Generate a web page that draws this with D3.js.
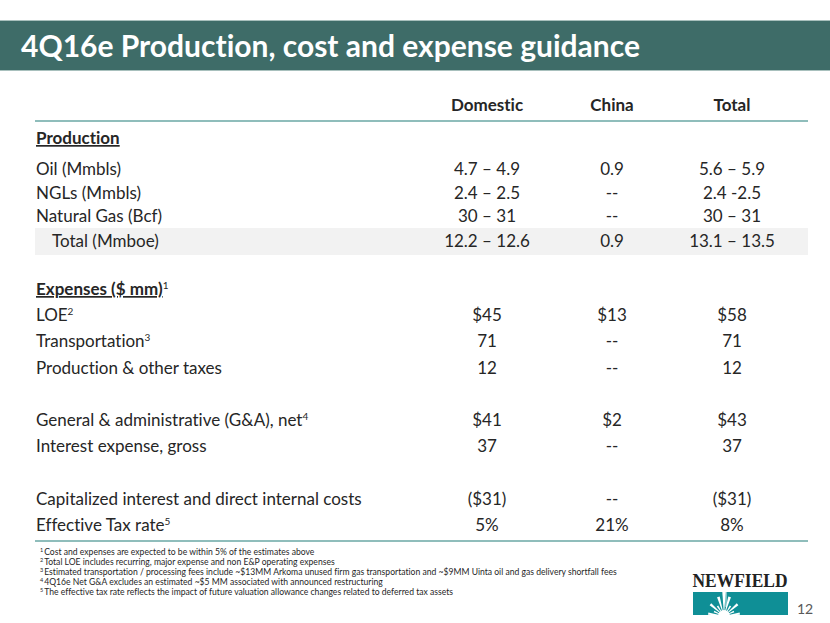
<!DOCTYPE html>
<html>
<head>
<meta charset="utf-8">
<script src="https://cdn.jsdelivr.net/npm/d3@7/dist/d3.min.js"></script>
<style>
  html, body { margin: 0; padding: 0; background: #ffffff; }
  svg { display: block; font-family: Lato, "Open Sans", sans-serif; font-variant-ligatures: none; font-feature-settings: "liga" 0, "clig" 0; }
</style>
</head>
<body>
<svg id="chart" width="830" height="623"></svg>
<script>
// ---------------- data ----------------
const title = "4Q16e Production, cost and expense guidance";
const columns = ["Domestic", "China", "Total"];

const prodLabels   = ["Oil (Mmbls)", "NGLs (Mmbls)", "Natural Gas (Bcf)", "Total (Mmboe)"];
const prodDomestic = ["4.7 – 4.9", "2.4 – 2.5", "30 – 31", "12.2 – 12.6"];
const prodChina    = ["0.9", "--", "--", "0.9"];
const prodTotal    = ["5.6 – 5.9", "2.4 -2.5", "30 – 31", "13.1 – 13.5"];

const expLabels   = ["LOE", "Transportation", "Production & other taxes",
                     "General & administrative (G&A), net", "Interest expense, gross",
                     "Capitalized interest and direct internal costs", "Effective Tax rate"];
const expNotes    = ["2", "3", "", "4", "", "", "5"];
const expSlots    = [1, 2, 3, 5, 6, 8, 9];
const expDomestic = ["$45", "71", "12", "$41", "37", "($31)", "5%"];
const expChina    = ["$13", "--", "--", "$2", "--", "--", "21%"];
const expTotal    = ["$58", "71", "12", "$43", "37", "($31)", "8%"];

const footNums = ["1", "2", "3", "4", "5"];
const footTexts = [
  "Cost and expenses are expected to be within 5% of the estimates above",
  "Total LOE includes recurring, major expense and non E&P operating expenses",
  "Estimated transportation / processing fees include ~$13MM Arkoma unused firm gas transportation and ~$9MM Uinta oil and gas delivery shortfall fees",
  "4Q16e Net G&A excludes an estimated ~$5 MM associated with announced restructuring",
  "The effective tax rate reflects the impact of future valuation allowance changes related to deferred tax assets"
];
const pageNumber = "12";

// ---------------- layout ----------------
const svg = d3.select("#chart");
const W = 830;
const textColor = "#262626";
const teal = "#3e6c68";
const ruleColor = "#8fbdbb";
const fs = 17;

const x = d3.scaleOrdinal().domain(columns).range([487, 612, 732]);
const labelX = 36;
const tableLeft = 35, tableRight = 808;
const prodY = d3.scaleLinear().domain([0, 1]).range([169, 192.5]);
const expY = d3.scaleLinear().domain([0, 1]).range([289, 315.2]);

// header bar
svg.append("rect").attr("x", 0).attr("y", 20).attr("width", W).attr("height", 51).attr("fill", teal);
svg.append("line").attr("x1", 0).attr("x2", W).attr("y1", 20.5).attr("y2", 20.5).attr("stroke", "#a8c0bd").attr("stroke-width", 1);
svg.append("line").attr("x1", 0).attr("x2", W).attr("y1", 70.5).attr("y2", 70.5).attr("stroke", "#a8c0bd").attr("stroke-width", 1);
svg.append("text").attr("x", 21).attr("y", 56.5).attr("fill", "#ffffff")
  .attr("font-size", 30).attr("font-weight", "bold").text(title);

// column headers
svg.selectAll("text.colhead").data(columns).join("text").attr("class", "colhead")
  .attr("x", d => x(d)).attr("y", 111).attr("text-anchor", "middle")
  .attr("font-size", fs).attr("font-weight", "bold").attr("fill", textColor).text(d => d);

// rules
svg.append("line").attr("x1", tableLeft).attr("x2", tableRight).attr("y1", 121).attr("y2", 121)
  .attr("stroke", ruleColor).attr("stroke-width", 2);
svg.append("line").attr("x1", tableLeft).attr("x2", tableRight).attr("y1", 541).attr("y2", 541)
  .attr("stroke", ruleColor).attr("stroke-width", 2);

// shaded total band
svg.append("rect").attr("x", tableLeft).attr("y", 228).attr("width", tableRight - tableLeft).attr("height", 27)
  .attr("fill", "#f2f2f2");

// section headings
function heading(txt, y, note) {
  const t = svg.append("text").attr("x", labelX).attr("y", y).attr("font-size", fs).attr("fill", textColor);
  t.append("tspan").attr("font-weight", "bold").attr("text-decoration", "underline").text(txt);
  if (note) t.append("tspan").attr("font-size", 10).attr("dy", -6).text(note);
}
heading("Production", 144);
heading("Expenses ($ mm)", expY(0) + 6, "1");

// production rows
const prodRows = prodLabels.map((l, i) => ({label: l, vals: [prodDomestic[i], prodChina[i], prodTotal[i]], y: prodY(i) + (i === 3 ? 1.5 : 0) + 6, indent: i === 3}));
const pg = svg.selectAll("g.prow").data(prodRows).join("g").attr("class", "prow");
pg.append("text").attr("x", d => d.indent ? labelX + 16 : labelX).attr("y", d => d.y)
  .attr("font-size", fs).attr("fill", textColor).text(d => d.label);
pg.selectAll("text.v").data(d => d.vals.map((v, j) => ({v, col: columns[j], y: d.y}))).join("text").attr("class", "v")
  .attr("x", d => x(d.col)).attr("y", d => d.y).attr("text-anchor", "middle")
  .attr("font-size", fs).attr("fill", textColor).text(d => d.v);

// expense rows
const expRows = expLabels.map((l, i) => ({label: l, note: expNotes[i], vals: [expDomestic[i], expChina[i], expTotal[i]], y: expY(expSlots[i]) + 6}));
const eg = svg.selectAll("g.erow").data(expRows).join("g").attr("class", "erow");
const et = eg.append("text").attr("x", labelX).attr("y", d => d.y).attr("font-size", fs).attr("fill", textColor);
et.append("tspan").text(d => d.label);
et.filter(d => d.note).append("tspan").attr("font-size", 10).attr("dy", -6).text(d => d.note);
eg.selectAll("text.v").data(d => d.vals.map((v, j) => ({v, col: columns[j], y: d.y}))).join("text").attr("class", "v")
  .attr("x", d => x(d.col)).attr("y", d => d.y).attr("text-anchor", "middle")
  .attr("font-size", fs).attr("fill", textColor).text(d => d.v);

// footnotes
const fy = d3.scaleLinear().domain([0, 1]).range([555, 565]);
const ft = svg.selectAll("text.foot").data(footTexts).join("text").attr("class", "foot")
  .attr("x", 40).attr("y", (d, i) => fy(i)).attr("font-size", 8.6).attr("fill", textColor);
ft.append("tspan").attr("font-size", 5.5).attr("dy", -3).text((d, i) => footNums[i]);
ft.append("tspan").attr("dy", 3).attr("dx", 1).text(d => d);

// logo
const logo = svg.append("g");
logo.append("text").attr("x", 740).attr("y", 587).attr("text-anchor", "middle")
  .style("font-family", "'Liberation Serif', 'DejaVu Serif', serif").attr("font-weight", "bold")
  .attr("font-size", 18).attr("fill", "#222").attr("textLength", 95).attr("lengthAdjust", "spacingAndGlyphs").text("NEWFIELD");
logo.append("rect").attr("x", 693).attr("y", 592).attr("width", 95).attr("height", 23).attr("fill", "#0f8f96");
logo.append("line").attr("x1", 726).attr("x2", 726).attr("y1", 592).attr("y2", 607).attr("stroke", "#e8f6f6").attr("stroke-width", 1);
const cx = 724, cy = 616;
const rays = d3.range(11).map(i => Math.PI + (i + 0.5) * Math.PI / 11);
const rl = [16, 11, 18, 12, 20, 24, 20, 12, 18, 11, 16];
logo.selectAll("path.ray").data(rays).join("path").attr("class", "ray")
  .attr("d", (a, i) => {
    const L = rl[i], w = 0.07;
    return `M${cx},${cy} L${cx + L * Math.cos(a - w)},${cy + L * Math.sin(a - w)} L${cx + L * Math.cos(a + w)},${cy + L * Math.sin(a + w)} Z`;
  }).attr("fill", "#ffffff");
logo.append("circle").attr("cx", cx).attr("cy", cy).attr("r", 6).attr("fill", "#ffffff");
logo.append("rect").attr("x", 690).attr("y", 615).attr("width", 100).attr("height", 8).attr("fill", "#ffffff");

// page number
svg.append("text").attr("x", 805).attr("y", 614).attr("text-anchor", "middle")
  .attr("font-size", 14).attr("fill", "#595959").text(pageNumber);
</script>
</body>
</html>
